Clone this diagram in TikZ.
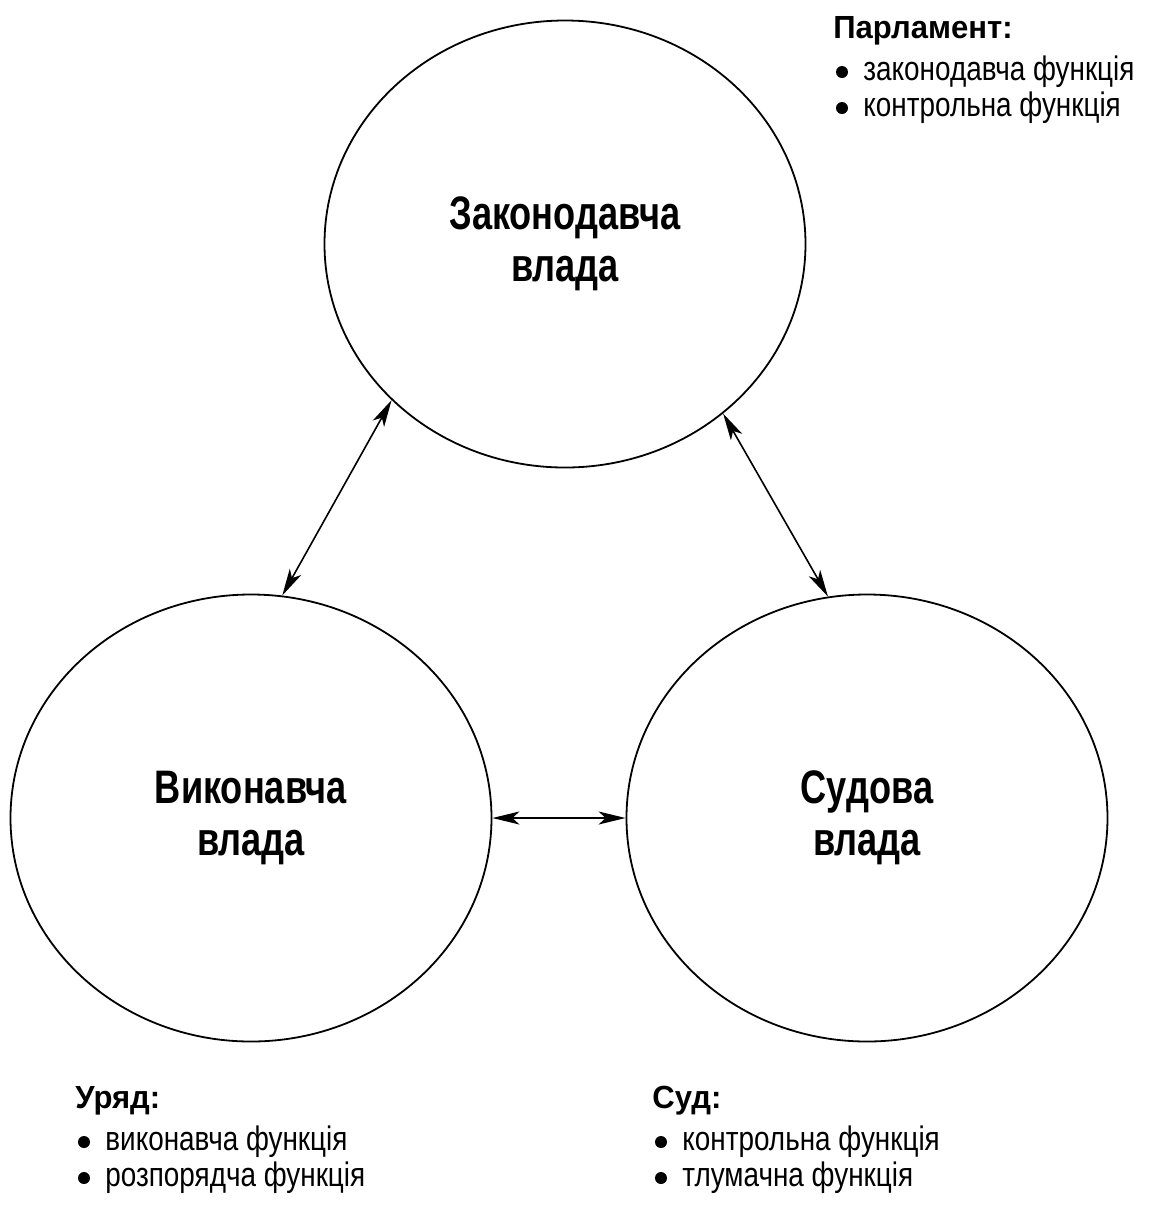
\documentclass[tikz,border=0pt]{standalone}
\usepackage{fontspec}
\setmainfont{Liberation Sans}[FakeStretch=0.82]
\newfontfamily\labelfont{Liberation Sans}[FakeStretch=0.77]
\newfontfamily\headfont{Liberation Sans}[FakeStretch=0.97]
\usetikzlibrary{arrows.meta, shapes.geometric}

\tikzset{
    branch/.style={ellipse, draw, line width=0.9pt, minimum width=240.5pt, minimum height=223.5pt,
        inner sep=0pt, align=center, font=\labelfont\fontsize{23.5}{26}\selectfont\bfseries},
    link/.style={{Stealth[length=13.5pt, width=6.5pt, inset=3.5pt]}-{Stealth[length=13.5pt, width=6.5pt, inset=3.5pt]},
        line width=0.8pt},
    listhead/.style={inner sep=0pt, anchor=base west, font=\headfont\fontsize{16}{19}\selectfont\bfseries},
    listitem/.style={inner sep=0pt, anchor=base west, font=\fontsize{17}{20}\selectfont},
}

\NewDocumentCommand{\DrawFunctions}{m m m m m}{
    % name, position, head, two functions
    \begin{scope}[shift={#2}]
        \node[listhead] (#1) at (0,0) {#3};
        \node[listitem] (#1-a) at (30,42) {#4};
        \node[listitem] (#1-b) at (30,78) {#5};
        \foreach \y in {34,70} {
            \fill (9,\y) circle [radius=3pt];
        }
    \end{scope}
}

\begin{document}
\begin{tikzpicture}[x=0.5pt, y=-0.5pt]

    \useasboundingbox (0,0) rectangle (1155,1207);

    \node[branch] (legis) at (565,244) {Законодавча\\влада};
    \node[branch] (exec) at (251,818) {Виконавча\\влада};
    \node[branch] (judic) at (867,818) {Судова\\влада};

    \draw[link] (legis.222.6) -- (exec.82.4);
    \draw[link] (legis.-47.3) -- (judic.100.2);
    \draw[link] (exec.east) -- (judic.west);

    \DrawFunctions{parl}{(833,38)}{Парламент:}{законодавча функція}{контрольна функція}
    \DrawFunctions{gov}{(75,1108)}{Уряд:}{виконавча функція}{розпорядча функція}
    \DrawFunctions{court}{(652,1108)}{Суд:}{контрольна функція}{тлумачна функція}
\end{tikzpicture}
\end{document}
